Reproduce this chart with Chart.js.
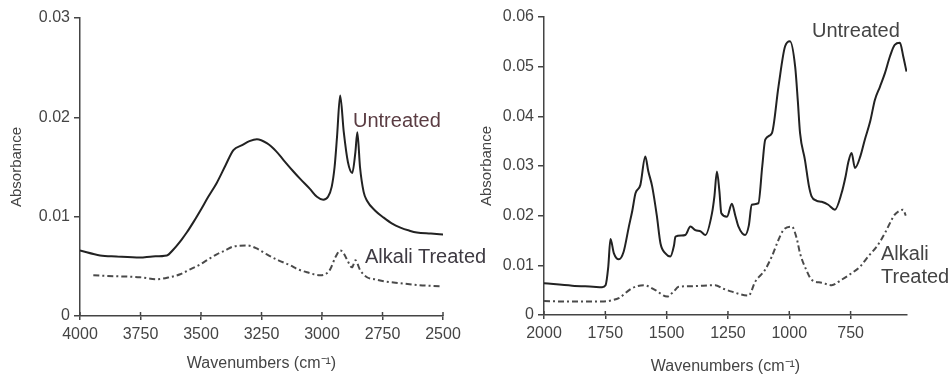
<!DOCTYPE html>
<html>
<head>
<meta charset="utf-8">
<script src="https://cdn.jsdelivr.net/npm/chart.js@4.4.0/dist/chart.umd.min.js"></script>
<style>
  body { margin: 0; background: #fff; }
  #wrap { position: relative; width: 952px; height: 377px; overflow: hidden; font-family: Arial, "Liberation Sans", sans-serif; }
  canvas { position: absolute; top: 0; }
  .lbl { position: absolute; font-size: 20px; line-height: 20px; white-space: nowrap; color: #444; }
</style>
</head>
<body>
<div id="wrap">
  <canvas id="ohChart" width="472" height="377" style="left:0"></canvas>
  <canvas id="fpChart" width="480" height="377" style="left:472px"></canvas>
  <div class="lbl" style="left:353px; top:110px; color:#5a3c42">Untreated</div>
  <div class="lbl" style="left:365px; top:246px; color:#3e3a42">Alkali Treated</div>
  <div class="lbl" style="left:812px; top:20px">Untreated</div>
  <div class="lbl" style="left:881px; top:243px">Alkali</div>
  <div class="lbl" style="left:881px; top:266px">Treated</div>
</div>
<script>
// left panel: 4000-2500 cm-1
const ohWavenumbers = [4000, 3917, 3850, 3752, 3700, 3641, 3614, 3580, 3559, 3530, 3503, 3470, 3435, 3400, 3366, 3330, 3300, 3269, 3228, 3190, 3159, 3120, 3090, 3050, 3021, 2995, 2975, 2960, 2948, 2938, 2925, 2910, 2893, 2875, 2862, 2854, 2843, 2828, 2814, 2780, 2745, 2710, 2676, 2640, 2608, 2550, 2497];
const ohUntreated = [0.0066, 0.0061, 0.0060, 0.0059, 0.0060, 0.0061, 0.0067, 0.0077, 0.0084, 0.0095, 0.0106, 0.0120, 0.0134, 0.0151, 0.0167, 0.0172, 0.0176, 0.0178, 0.0174, 0.0166, 0.0157, 0.0146, 0.0138, 0.0128, 0.0120, 0.0117, 0.0120, 0.0130, 0.0150, 0.0180, 0.0222, 0.0185, 0.0155, 0.0144, 0.0165, 0.0185, 0.0150, 0.0125, 0.0116, 0.0106, 0.0099, 0.0093, 0.0089, 0.0086, 0.0084, 0.0083, 0.0082];
const ohAlkaliWavenumbers = [3945, 3850, 3752, 3683, 3630, 3586, 3545, 3503, 3470, 3435, 3400, 3366, 3310, 3270, 3228, 3180, 3131, 3100, 3062, 3007, 2980, 2966, 2945, 2924, 2910, 2897, 2876, 2862, 2842, 2814, 2780, 2745, 2676, 2600, 2511];
const ohAlkali = [0.0041, 0.0040, 0.0039, 0.0037, 0.0039, 0.0042, 0.0047, 0.0052, 0.0057, 0.0062, 0.0066, 0.0070, 0.0071, 0.0068, 0.0062, 0.0056, 0.0051, 0.0047, 0.0044, 0.0041, 0.0043, 0.0047, 0.0059, 0.0066, 0.0063, 0.0057, 0.0049, 0.0056, 0.0046, 0.0039, 0.0037, 0.0035, 0.0033, 0.0031, 0.0030];

// right panel: 2000-520 cm-1
const fpWavenumbers = [2000, 1885, 1800, 1763, 1749, 1738, 1729, 1715, 1695, 1675, 1654, 1640, 1627, 1607, 1587, 1575, 1559, 1540, 1525, 1505, 1485, 1470, 1464, 1440, 1424, 1403, 1383, 1360, 1342, 1315, 1305, 1295, 1285, 1277, 1254, 1234, 1220, 1207, 1180, 1165, 1153, 1126, 1110, 1098, 1071, 1044, 1017, 997, 976, 965, 956, 936, 920, 909, 888, 868, 841, 814, 787, 770, 760, 746, 732, 710, 692, 670, 651, 630, 610, 590, 570, 549, 535, 522];
const fpUntreated = [0.0064, 0.0059, 0.0057, 0.0056, 0.0060, 0.0097, 0.0153, 0.0124, 0.0112, 0.0128, 0.0178, 0.0210, 0.0245, 0.0262, 0.0319, 0.0290, 0.0259, 0.0200, 0.0144, 0.0124, 0.0118, 0.0140, 0.0158, 0.0160, 0.0161, 0.0178, 0.0171, 0.0168, 0.0161, 0.0205, 0.0240, 0.0289, 0.0250, 0.0205, 0.0198, 0.0224, 0.0200, 0.0178, 0.0161, 0.0180, 0.0222, 0.0225, 0.0300, 0.0353, 0.0366, 0.0460, 0.0541, 0.0551, 0.0500, 0.0430, 0.0366, 0.0312, 0.0260, 0.0239, 0.0230, 0.0228, 0.0222, 0.0212, 0.0245, 0.0280, 0.0306, 0.0326, 0.0296, 0.0320, 0.0353, 0.0390, 0.0433, 0.0460, 0.0487, 0.0520, 0.0544, 0.0548, 0.0520, 0.0490];
const fpAlkaliWavenumbers = [2000, 1880, 1763, 1720, 1695, 1641, 1593, 1546, 1498, 1470, 1451, 1397, 1302, 1270, 1234, 1166, 1139, 1100, 1071, 1045, 1024, 990, 970, 956, 930, 909, 868, 827, 790, 746, 710, 678, 640, 610, 570, 550, 536, 525];
const fpAlkali = [0.0028, 0.0027, 0.0027, 0.0030, 0.0034, 0.0054, 0.0060, 0.0050, 0.0037, 0.0048, 0.0057, 0.0058, 0.0060, 0.0053, 0.0047, 0.0039, 0.0067, 0.0090, 0.0118, 0.0150, 0.0171, 0.0178, 0.0155, 0.0124, 0.0090, 0.0071, 0.0065, 0.0060, 0.0070, 0.0084, 0.0098, 0.0118, 0.0140, 0.0165, 0.0202, 0.0210, 0.0212, 0.0200];

const xTicksLeft = [4000, 3750, 3500, 3250, 3000, 2750, 2500];
const xTicksRight = [2000, 1750, 1500, 1250, 1000, 750];

const textColor = '#444';
const axisColor = '#444';
const fontFamily = 'Arial, "Liberation Sans", sans-serif';

function toPoints(xs, ys) {
    return xs.map((x, i) => ({ x: x, y: ys[i] }));
}

// short tick marks poking up into the plot, like the original figure
const innerTicks = {
    id: 'innerTicks',
    afterDraw(chart) {
        const { ctx, scales, chartArea } = chart;
        const x = scales.x;
        ctx.save();
        ctx.strokeStyle = axisColor;
        ctx.lineWidth = 1.5;
        x.ticks.forEach(t => {
            const px = x.getPixelForValue(t.value);
            ctx.beginPath();
            ctx.moveTo(px, chartArea.bottom);
            ctx.lineTo(px, chartArea.bottom - 4);
            ctx.stroke();
        });
        ctx.restore();
    }
};

function makeChart(id, cfg) {
    const ctx = document.getElementById(id).getContext('2d');
    return new Chart(ctx, {
        type: 'line',
        data: {
            datasets: [{
                label: 'Untreated',
                data: toPoints(cfg.wn, cfg.untreated),
                borderColor: '#222',
                borderWidth: 2,
                pointRadius: 0,
                cubicInterpolationMode: 'monotone'
            }, {
                label: 'Alkali Treated',
                data: toPoints(cfg.alkWn, cfg.alkali),
                borderColor: '#4a4a4a',
                borderWidth: 2,
                borderDash: [6, 3, 2, 3],
                pointRadius: 0,
                cubicInterpolationMode: 'monotone'
            }]
        },
        options: {
            responsive: false,
            animation: false,
            devicePixelRatio: 1,
            layout: { padding: { top: cfg.top, right: cfg.right, left: 0, bottom: 0 } },
            plugins: { legend: { display: false }, tooltip: { enabled: false } },
            scales: {
                x: {
                    type: 'linear',
                    reverse: true,
                    min: cfg.xmin,
                    max: cfg.xmax,
                    afterBuildTicks: axis => { axis.ticks = cfg.xticks.map(v => ({ value: v })); },
                    afterFit: axis => { axis.height = cfg.xHeight; },
                    border: { display: true, color: axisColor, width: 1.5 },
                    grid: { drawOnChartArea: false, drawTicks: true, tickLength: 4, color: axisColor, lineWidth: 1.5 },
                    ticks: {
                        color: textColor,
                        font: { family: fontFamily, size: 16 },
                        padding: 5,
                        maxRotation: 0,
                        callback: v => String(v)
                    },
                    title: { display: true, text: 'Wavenumbers (cm⁻¹)', color: textColor, font: { family: fontFamily, size: 16 }, padding: { top: 0, bottom: cfg.titlePad } }
                },
                y: {
                    min: 0,
                    max: cfg.ymax,
                    afterFit: axis => { axis.width = cfg.yWidth; },
                    border: { display: true, color: axisColor, width: 1.5 },
                    grid: { drawOnChartArea: false, drawTicks: true, tickLength: 6, color: axisColor, lineWidth: 1.5 },
                    ticks: {
                        stepSize: 0.01,
                        color: textColor,
                        font: { family: fontFamily, size: 16 },
                        padding: 4,
                        callback: v => (v === 0 ? '0' : v.toFixed(2))
                    },
                    title: { display: true, text: 'Absorbance', color: textColor, font: { family: fontFamily, size: 15 }, padding: { top: cfg.yTitlePad, bottom: 0 } }
                }
            }
        },
        plugins: [innerTicks]
    });
}

makeChart('ohChart', {
    wn: ohWavenumbers, untreated: ohUntreated, alkWn: ohAlkaliWavenumbers, alkali: ohAlkali,
    xmin: 2500, xmax: 4000, xticks: xTicksLeft, ymax: 0.03,
    top: 18, right: 29, xHeight: 61, yWidth: 80, titlePad: 4, yTitlePad: 8
});

makeChart('fpChart', {
    wn: fpWavenumbers, untreated: fpUntreated, alkWn: fpAlkaliWavenumbers, alkali: fpAlkali,
    xmin: 520, xmax: 2000, xticks: xTicksRight, ymax: 0.06,
    top: 17, right: 45, xHeight: 62, yWidth: 72, titlePad: 1, yTitlePad: 6
});
</script>
</body>
</html>
